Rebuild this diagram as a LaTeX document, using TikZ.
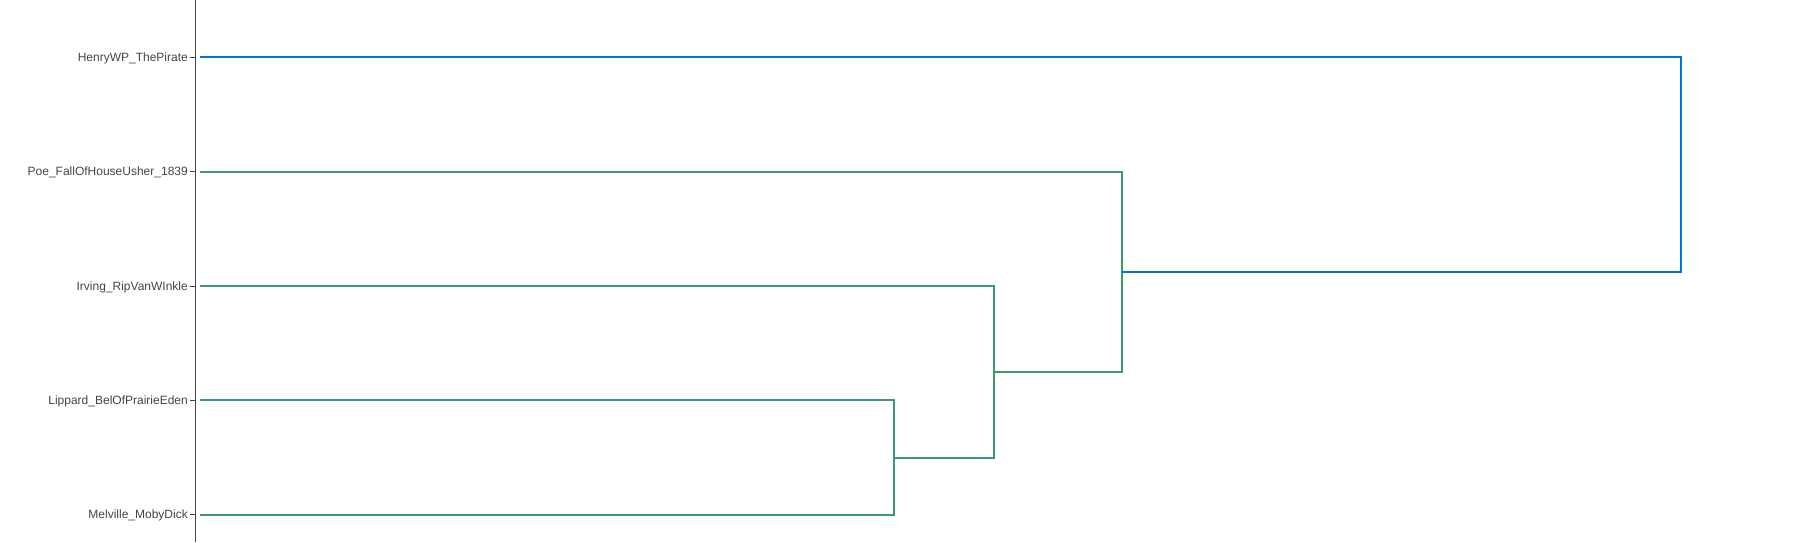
\documentclass[tikz,border=0pt]{standalone}
\usepackage{fontspec}
\setmainfont{Liberation Sans}
\definecolor{axisgray}{HTML}{444444}
\definecolor{dgreen}{HTML}{3D9970}
\definecolor{dblue}{RGB}{0,116,217}
\tikzset{
  leaflabel/.style={anchor=east,inner sep=0pt,text=axisgray,font=\fontsize{12}{14}\selectfont},
  tickline/.style={draw=axisgray,line width=0.9pt},
  axisline/.style={draw=axisgray,line width=1pt},
  greenlink/.style={draw=dgreen,line width=1.8pt},
  bluelink/.style={draw=dblue,line width=1.8pt}
}
\begin{document}
\begin{tikzpicture}[x=1pt,y=-1pt]
\useasboundingbox (0,0) rectangle (1793,542);
\draw[axisline] (195.5,0) -- (195.5,542);
% leaves
\foreach \n/\t/\y in {h/HenryWP\_ThePirate/57.2, p/Poe\_FallOfHouseUsher\_1839/171.6, i/Irving\_RipVanWInkle/286, l/Lippard\_BelOfPrairieEden/400.3, m/Melville\_MobyDick/514.8}{
  \node[leaflabel] (\n) at (188,\y+1) {\t};
  \draw[tickline] (190,\y) -- (195.5,\y);
  \coordinate (\n0) at (200,\y);
}
% joins
\coordinate (lm) at (894,457.7);
\coordinate (ilm) at (993.7,371.7);
\coordinate (pilm) at (1121.7,271.7);
\draw[greenlink] (l0) -- (894,400.3) -- (894,514.8) -- (m0);
\draw[greenlink] (i0) -- (993.7,286) -- (993.7,457.7) -- (lm);
\draw[greenlink] (p0) -- (1121.7,171.6) -- (1121.7,371.7) -- (ilm);
\draw[bluelink] (h0) -- (1681,57.2) -- (1681,271.7) -- (pilm);
\end{tikzpicture}
\end{document}
